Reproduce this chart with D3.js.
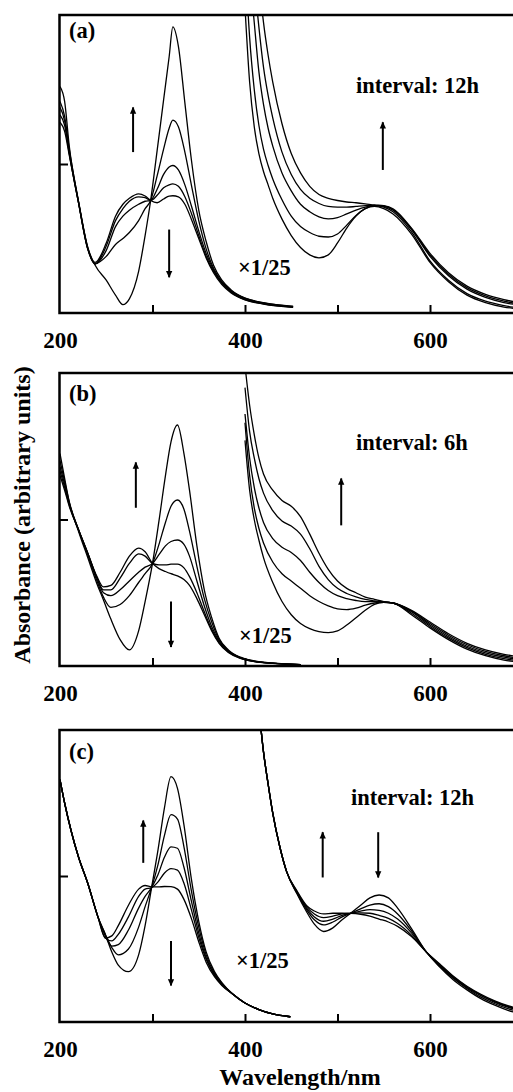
<!DOCTYPE html>
<html>
<head>
<meta charset="utf-8">
<script src="https://cdn.jsdelivr.net/npm/d3@7"></script>
<style>
html, body { margin: 0; padding: 0; background: #fff; overflow: hidden; }
svg { display: block; }
text { font-family: "Liberation Serif", "Times New Roman", serif; font-weight: bold; fill: #000; }
</style>
</head>
<body>
<script>
// ---- data (absorbance in arbitrary units, UV part already x1/25) ----

var tickLabels = [200, 400, 600];
var tickMarks  = [300, 400, 500, 600];
var panelLabels    = ["(a)", "(b)", "(c)"];
var intervalLabels = ["interval: 12h", "interval: 6h", "interval: 12h"];

// panel (a)
var uvWlA = [200, 205, 210, 220, 230, 238, 250, 260, 268, 275, 285, 292, 298, 305, 312, 318, 322, 328, 335, 342, 350, 358, 366, 375, 385, 400, 420, 452];
var uvA = [
  [1.52, 1.42, 1.12, 0.75, 0.44, 0.32, 0.22, 0.12, 0.056, 0.095, 0.28, 0.52, 0.755, 1.09, 1.43, 1.72, 1.92, 1.79, 1.41, 1.03, 0.69, 0.48, 0.32, 0.22, 0.155, 0.1, 0.07, 0.045],
  [1.42, 1.32, 1.10, 0.75, 0.44, 0.33, 0.38, 0.46, 0.50, 0.54, 0.62, 0.70, 0.755, 0.92, 1.10, 1.24, 1.295, 1.25, 1.08, 0.86, 0.62, 0.43, 0.30, 0.21, 0.15, 0.1, 0.068, 0.045],
  [1.38, 1.29, 1.08, 0.74, 0.43, 0.33, 0.42, 0.58, 0.65, 0.69, 0.73, 0.75, 0.755, 0.83, 0.93, 0.98, 0.99, 0.96, 0.86, 0.72, 0.55, 0.40, 0.29, 0.20, 0.145, 0.095, 0.065, 0.04],
  [1.33, 1.26, 1.07, 0.74, 0.43, 0.33, 0.45, 0.62, 0.70, 0.75, 0.78, 0.775, 0.755, 0.79, 0.84, 0.86, 0.866, 0.85, 0.78, 0.67, 0.52, 0.38, 0.28, 0.20, 0.14, 0.09, 0.062, 0.04],
  [1.28, 1.22, 1.06, 0.74, 0.43, 0.34, 0.47, 0.65, 0.73, 0.77, 0.80, 0.785, 0.755, 0.74, 0.765, 0.785, 0.787, 0.78, 0.73, 0.63, 0.50, 0.37, 0.27, 0.19, 0.135, 0.088, 0.06, 0.038]
];
var visWlA = [400, 405, 410, 415, 420, 425, 430, 440, 450, 460, 470, 480, 490, 500, 510, 520, 530, 540, 550, 560, 580, 600, 620, 640, 660, 680, 700];
var visA = [
  [2.05, 1.55, 1.25, 1.07, 0.95, 0.86, 0.77, 0.63, 0.52, 0.44, 0.39, 0.37, 0.39, 0.47, 0.57, 0.65, 0.70, 0.715, 0.70, 0.665, 0.53, 0.34, 0.21, 0.12, 0.07, 0.04, 0.025],
  [2.4, 1.85, 1.5, 1.26, 1.1, 0.99, 0.9, 0.76, 0.65, 0.58, 0.54, 0.515, 0.51, 0.53, 0.59, 0.655, 0.70, 0.72, 0.71, 0.68, 0.545, 0.35, 0.22, 0.13, 0.08, 0.05, 0.03],
  [2.8, 2.3, 1.95, 1.62, 1.4, 1.24, 1.12, 0.94, 0.82, 0.73, 0.68, 0.645, 0.632, 0.64, 0.665, 0.69, 0.71, 0.72, 0.715, 0.69, 0.56, 0.38, 0.25, 0.16, 0.105, 0.07, 0.05],
  [3.2, 2.7, 2.25, 1.92, 1.65, 1.46, 1.31, 1.08, 0.93, 0.83, 0.77, 0.735, 0.715, 0.71, 0.71, 0.715, 0.72, 0.722, 0.718, 0.695, 0.565, 0.39, 0.26, 0.17, 0.115, 0.08, 0.055],
  [3.6, 3.1, 2.65, 2.25, 1.95, 1.73, 1.55, 1.27, 1.07, 0.94, 0.85, 0.795, 0.77, 0.755, 0.745, 0.74, 0.733, 0.725, 0.72, 0.70, 0.57, 0.40, 0.27, 0.18, 0.125, 0.09, 0.065]
];

// panel (b)
var uvWlB = [200, 205, 210, 220, 230, 240, 247, 255, 265, 275, 285, 292, 300, 307, 314, 320, 327, 334, 340, 348, 356, 364, 372, 382, 395, 410, 430, 460];
var uvB = [
  [1.45, 1.28, 1.12, 0.92, 0.74, 0.56, 0.45, 0.32, 0.18, 0.11, 0.24, 0.44, 0.70, 0.99, 1.30, 1.53, 1.645, 1.45, 1.2, 0.82, 0.52, 0.33, 0.19, 0.11, 0.06, 0.035, 0.02, 0.01],
  [1.40, 1.26, 1.12, 0.93, 0.76, 0.58, 0.47, 0.40, 0.42, 0.48, 0.57, 0.63, 0.70, 0.83, 0.98, 1.09, 1.133, 1.07, 0.92, 0.68, 0.46, 0.30, 0.18, 0.105, 0.058, 0.033, 0.02, 0.01],
  [1.36, 1.24, 1.11, 0.93, 0.77, 0.60, 0.50, 0.48, 0.52, 0.58, 0.64, 0.675, 0.70, 0.76, 0.82, 0.85, 0.86, 0.83, 0.75, 0.58, 0.41, 0.27, 0.17, 0.10, 0.056, 0.032, 0.019, 0.01],
  [1.33, 1.22, 1.10, 0.93, 0.77, 0.60, 0.52, 0.52, 0.60, 0.70, 0.765, 0.75, 0.70, 0.69, 0.69, 0.695, 0.696, 0.67, 0.61, 0.50, 0.37, 0.25, 0.16, 0.095, 0.054, 0.031, 0.018, 0.01],
  [1.30, 1.20, 1.09, 0.93, 0.77, 0.61, 0.54, 0.55, 0.64, 0.75, 0.805, 0.78, 0.70, 0.665, 0.645, 0.63, 0.615, 0.59, 0.55, 0.46, 0.35, 0.24, 0.155, 0.092, 0.052, 0.03, 0.018, 0.01]
];
var visWlB = [400, 405, 410, 415, 420, 430, 440, 450, 460, 470, 480, 490, 500, 510, 520, 530, 540, 550, 560, 580, 600, 620, 640, 660, 680, 700];
var visB = [
  [1.54, 1.2, 1.0, 0.86, 0.74, 0.57, 0.44, 0.35, 0.29, 0.255, 0.235, 0.228, 0.24, 0.28, 0.33, 0.38, 0.42, 0.435, 0.43, 0.35, 0.26, 0.18, 0.115, 0.07, 0.04, 0.025],
  [1.66, 1.3, 1.08, 0.94, 0.84, 0.71, 0.63, 0.58, 0.53, 0.48, 0.44, 0.41, 0.39, 0.385, 0.395, 0.415, 0.43, 0.435, 0.43, 0.36, 0.27, 0.19, 0.125, 0.08, 0.05, 0.032],
  [1.72, 1.42, 1.22, 1.08, 0.98, 0.87, 0.81, 0.775, 0.72, 0.64, 0.57, 0.515, 0.48, 0.46, 0.447, 0.44, 0.44, 0.435, 0.43, 0.37, 0.28, 0.20, 0.135, 0.09, 0.06, 0.04],
  [1.9, 1.6, 1.42, 1.28, 1.18, 1.06, 0.99, 0.955, 0.9, 0.8, 0.68, 0.59, 0.53, 0.495, 0.472, 0.455, 0.445, 0.437, 0.43, 0.375, 0.29, 0.21, 0.145, 0.10, 0.07, 0.05],
  [2.05, 1.78, 1.58, 1.42, 1.31, 1.2, 1.13, 1.09, 1.02, 0.9, 0.77, 0.66, 0.58, 0.53, 0.50, 0.47, 0.455, 0.44, 0.43, 0.38, 0.30, 0.22, 0.155, 0.11, 0.08, 0.06]
];

// panel (c)
var uvWlC = [200, 205, 212, 220, 230, 241, 249, 256, 263, 274, 285, 292, 299, 306, 313, 320, 327, 334, 342, 350, 358, 367, 375, 387, 400, 415, 430, 449];
var uvC = [
  [1.66, 1.5, 1.31, 1.13, 0.95, 0.72, 0.60, 0.48, 0.39, 0.345, 0.46, 0.66, 0.92, 1.18, 1.47, 1.68, 1.60, 1.35, 0.98, 0.69, 0.48, 0.345, 0.27, 0.19, 0.13, 0.085, 0.055, 0.036],
  [1.66, 1.5, 1.31, 1.13, 0.95, 0.72, 0.60, 0.51, 0.46, 0.50, 0.65, 0.79, 0.92, 1.08, 1.28, 1.42, 1.39, 1.2, 0.9, 0.65, 0.46, 0.335, 0.265, 0.19, 0.13, 0.085, 0.055, 0.036],
  [1.66, 1.5, 1.31, 1.13, 0.95, 0.72, 0.59, 0.52, 0.53, 0.63, 0.78, 0.86, 0.92, 1.01, 1.13, 1.20, 1.19, 1.06, 0.83, 0.61, 0.44, 0.325, 0.26, 0.19, 0.13, 0.085, 0.055, 0.036],
  [1.66, 1.5, 1.31, 1.13, 0.95, 0.72, 0.575, 0.555, 0.60, 0.72, 0.86, 0.91, 0.92, 0.96, 1.02, 1.05, 1.04, 0.95, 0.77, 0.58, 0.43, 0.32, 0.255, 0.19, 0.13, 0.085, 0.055, 0.036],
  [1.66, 1.5, 1.31, 1.13, 0.95, 0.72, 0.575, 0.59, 0.66, 0.80, 0.91, 0.935, 0.925, 0.925, 0.928, 0.927, 0.91, 0.84, 0.71, 0.55, 0.41, 0.31, 0.25, 0.19, 0.13, 0.085, 0.055, 0.036]
];
var visWlC = [415, 420, 425, 430, 438, 445, 456, 467, 475, 485, 495, 505, 514, 525, 535, 545, 555, 565, 580, 596, 610, 625, 640, 655, 670, 685, 700];
var visC = [
  [2.15, 1.85, 1.63, 1.43, 1.19, 1.03, 0.88, 0.75, 0.67, 0.62, 0.645, 0.70, 0.744, 0.80, 0.85, 0.87, 0.85, 0.78, 0.64, 0.48, 0.38, 0.29, 0.22, 0.16, 0.115, 0.078, 0.052],
  [2.15, 1.85, 1.63, 1.43, 1.19, 1.03, 0.885, 0.765, 0.70, 0.665, 0.685, 0.72, 0.744, 0.775, 0.80, 0.81, 0.79, 0.74, 0.625, 0.48, 0.385, 0.30, 0.23, 0.17, 0.125, 0.09, 0.065],
  [2.15, 1.85, 1.63, 1.43, 1.19, 1.03, 0.89, 0.775, 0.72, 0.69, 0.705, 0.73, 0.744, 0.76, 0.77, 0.765, 0.745, 0.705, 0.61, 0.48, 0.39, 0.305, 0.235, 0.18, 0.135, 0.10, 0.075],
  [2.15, 1.85, 1.63, 1.43, 1.19, 1.03, 0.895, 0.785, 0.74, 0.715, 0.725, 0.74, 0.744, 0.748, 0.745, 0.73, 0.71, 0.675, 0.595, 0.48, 0.395, 0.31, 0.24, 0.185, 0.14, 0.105, 0.08],
  [2.15, 1.85, 1.63, 1.43, 1.19, 1.03, 0.90, 0.795, 0.76, 0.74, 0.745, 0.745, 0.744, 0.738, 0.725, 0.705, 0.685, 0.655, 0.585, 0.48, 0.40, 0.315, 0.245, 0.19, 0.145, 0.11, 0.085]
];

// arrows as [wavelength, from value, to value]
var arrowsA = [[279, 1.08, 1.38], [318, 0.56, 0.24], [549, 0.96, 1.28]];
var arrowsB = [[282, 1.08, 1.39], [320, 0.44, 0.13], [504, 0.96, 1.28]];
var arrowsC = [[290, 1.09, 1.38], [320, 0.555, 0.25], [484, 0.99, 1.30], [544, 1.30, 0.99]];

// ---- layout ----
var width = 513, height = 1092;
var frames = [
  {top: 15,  bottom: 313,  uvWl: uvWlA, uv: uvA, visWl: visWlA, vis: visA, arrows: arrowsA, scaleAt: [238, 275], intervalAt: [356, 93], labelAt: [69, 38]},
  {top: 373, bottom: 666,  uvWl: uvWlB, uv: uvB, visWl: visWlB, vis: visB, arrows: arrowsB, scaleAt: [239, 643], intervalAt: [356, 450], labelAt: [69, 401]},
  {top: 730, bottom: 1022, uvWl: uvWlC, uv: uvC, visWl: visWlC, vis: visC, arrows: arrowsC, scaleAt: [236, 968], intervalAt: [351, 805], labelAt: [69, 759]}
];

var x = d3.scaleLinear().domain([200, 700]).range([60, 522.5]);

var svg = d3.select("body").append("svg")
    .attr("width", width)
    .attr("height", height);

var defs = svg.append("defs");
defs.append("marker")
    .attr("id", "head")
    .attr("viewBox", "0 0 10 10")
    .attr("refX", 9).attr("refY", 5)
    .attr("markerUnits", "userSpaceOnUse")
    .attr("markerWidth", 9).attr("markerHeight", 7)
    .attr("orient", "auto")
  .append("path")
    .attr("d", "M0,0.5 L10,5 L0,9.5 Z")
    .attr("fill", "#000");

frames.forEach(function (f, i) {
  var y = d3.scaleLinear().domain([0, 2]).range([f.bottom, f.top]);
  var g = svg.append("g");

  defs.append("clipPath").attr("id", "clip" + i)
    .append("rect")
      .attr("x", x(200)).attr("y", f.top)
      .attr("width", 600).attr("height", f.bottom - f.top);

  var plot = g.append("g").attr("clip-path", "url(#clip" + i + ")");

  var line = function (wl) {
    return d3.line()
      .x(function (d, k) { return x(wl[k]); })
      .y(function (d) { return y(d); })
      .curve(d3.curveMonotoneX);
  };

  plot.selectAll("path.uv")
    .data(f.uv)
    .enter().append("path")
      .attr("class", "uv")
      .attr("d", line(f.uvWl))
      .attr("fill", "none")
      .attr("stroke", "#000")
      .attr("stroke-width", 1.3);

  plot.selectAll("path.vis")
    .data(f.vis)
    .enter().append("path")
      .attr("class", "vis")
      .attr("d", line(f.visWl))
      .attr("fill", "none")
      .attr("stroke", "#000")
      .attr("stroke-width", 1.3);

  // inner ticks
  g.append("g")
    .attr("transform", "translate(0," + f.bottom + ")")
    .call(d3.axisBottom(x).tickValues(tickMarks).tickSizeInner(-8).tickSizeOuter(0).tickFormat(""))
    .call(function (a) { a.select(".domain").remove(); })
    .selectAll("line").attr("stroke-width", 2);

  g.append("g")
    .attr("transform", "translate(" + x(200) + ",0)")
    .call(d3.axisLeft(y).tickValues([1]).tickSizeInner(-8).tickSizeOuter(0).tickFormat(""))
    .call(function (a) { a.select(".domain").remove(); })
    .selectAll("line").attr("stroke-width", 2);

  // tick labels
  var lab = g.append("g")
    .attr("transform", "translate(0," + f.bottom + ")")
    .call(d3.axisBottom(x).tickValues(tickLabels).tickSize(0).tickPadding(19));
  lab.select(".domain").remove();
  lab.selectAll("text")
    .attr("font-size", 23)
    .attr("font-family", "Liberation Serif, Times New Roman, serif")
    .attr("font-weight", "bold")
    .attr("fill", "#000");

  // frame: left, top, bottom (right edge runs past the window)
  g.append("path")
    .attr("d", "M" + 540 + "," + f.top + "H" + (x(200) - 0.5) + "V" + f.bottom + "H" + 540)
    .attr("fill", "none")
    .attr("stroke", "#000")
    .attr("stroke-width", 2.5);

  // arrows
  g.selectAll("line.arrow")
    .data(f.arrows)
    .enter().append("line")
      .attr("class", "arrow")
      .attr("x1", function (d) { return x(d[0]); })
      .attr("x2", function (d) { return x(d[0]); })
      .attr("y1", function (d) { return y(d[1]); })
      .attr("y2", function (d) { return y(d[2]); })
      .attr("stroke", "#000")
      .attr("stroke-width", 2)
      .attr("marker-end", "url(#head)");

  g.append("text").attr("x", f.labelAt[0]).attr("y", f.labelAt[1])
    .attr("font-size", 22.5).text(panelLabels[i]);
  g.append("text").attr("x", f.intervalAt[0]).attr("y", f.intervalAt[1])
    .attr("font-size", 22.5).text(intervalLabels[i]);
  g.append("text").attr("x", f.scaleAt[0]).attr("y", f.scaleAt[1])
    .attr("font-size", 22.5).text("\u00d71/25");
});

svg.append("text")
  .attr("x", 300).attr("y", 1085)
  .attr("text-anchor", "middle")
  .attr("font-size", 24)
  .text("Wavelength/nm");

svg.append("text")
  .attr("transform", "translate(30,515) rotate(-90)")
  .attr("text-anchor", "middle")
  .attr("font-size", 24)
  .text("Absorbance (arbitrary units)");
</script>
</body>
</html>
